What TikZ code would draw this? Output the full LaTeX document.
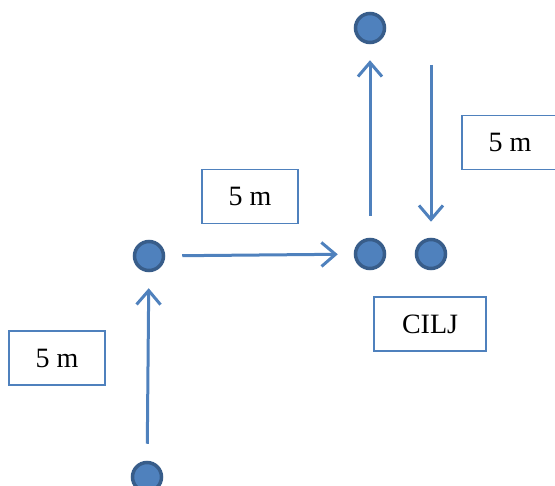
\documentclass[tikz,border=0pt]{standalone}
\usepackage{fontspec}
\setmainfont{Liberation Serif}
\usetikzlibrary{arrows.meta}
\definecolor{pathblue}{RGB}{79,129,189}
\definecolor{dotedge}{RGB}{56,93,138}
\tikzset{
  dot/.style={circle,fill=pathblue,draw=dotedge,line width=3.5pt,minimum size=29pt,inner sep=0pt},
  walk/.style={draw=pathblue,line width=3pt,-{Straight Barb[length=14pt,width=24pt,line width=3pt]},shorten <=17pt,shorten >=16pt},
  label/.style={draw=pathblue,line width=1.3pt,minimum width=96pt,minimum height=54pt,inner sep=0pt,font=\fontsize{28}{30}\selectfont}
}

\begin{document}
\begin{tikzpicture}[x=1pt,y=-1pt]
		\useasboundingbox (0,0) rectangle (555,486);
		% Points of the walk
		\node[dot] (start) at (147,477) {};
		\node[dot] (corner) at (149,256) {};
		\node[dot] (cilj) at (370,254) {};
		\node[dot] (peak) at (370,28) {};
		\node[dot] (back) at (431,254) {};
		\coordinate (down) at (431,65);

		% Legs of the walk
		\draw[walk] (start) -- (corner);
		\draw[walk] (corner) -- (cilj);
		\draw[walk,shorten <=22pt] (cilj) -- (peak);
		\draw[walk,shorten <=0pt] (down) -- (back);

		% Distance labels
		\node[label] (leg1) at (57,358) {5 m};
		\node[label] (leg2) at (250,196.5) {5 m};
		\node[label] (leg3) at (510,142.5) {5 m};
		\node[label,minimum width=112pt] (goal) at (430,324) {CILJ};
	\end{tikzpicture}
\end{document}
